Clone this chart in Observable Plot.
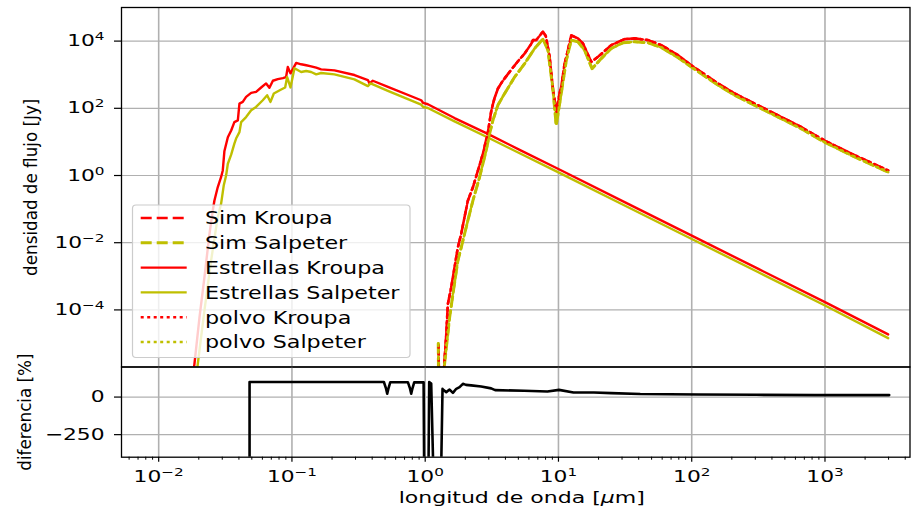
<!DOCTYPE html>
<html>
<head>
<meta charset="utf-8">
<script src="https://cdn.jsdelivr.net/npm/d3@7"></script>
<script src="https://cdn.jsdelivr.net/npm/@observablehq/plot@0.6"></script>
<style>
  body { margin: 0; background: #fff; }
  #wrap { position: relative; width: 911px; height: 512px; overflow: hidden; font-family: "DejaVu Sans", sans-serif; }
  #wrap > svg { position: absolute; left: 0; top: 0; }
</style>
</head>
<body>
<div id="wrap"></div>
<script>
// ---------------- DATA (log10 of wavelength in μm, log10 of flux in Jy) ----------------
const estrellasKroupa = [[-1.80,-7.5],[-1.732,-5.62],[-1.694,-4.23],[-1.657,-3.04],[-1.619,-1.74],[-1.594,-1.04],[-1.582,-0.75],[-1.557,-0.35],[-1.532,-0.05],[-1.519,0.15],[-1.507,0.72],[-1.481,1.14],[-1.456,1.34],[-1.432,1.59],[-1.406,1.64],[-1.394,2.14],[-1.369,2.19],[-1.344,2.34],[-1.306,2.46],[-1.269,2.49],[-1.231,2.62],[-1.194,2.74],[-1.169,2.61],[-1.143,2.82],[-1.106,2.87],[-1.068,2.90],[-1.044,2.93],[-1.031,3.23],[-1.011,3.04],[-0.968,3.35],[-0.931,3.31],[-0.893,3.28],[-0.856,3.25],[-0.818,3.21],[-0.781,3.16],[-0.681,3.13],[-0.531,2.99],[-0.430,2.84],[-0.418,2.74],[-0.393,2.82],[-0.280,2.64],[-0.030,2.24],[-0.015,2.16],[0.020,2.12],[0.220,1.71],[0.470,1.24],[0.720,0.74],[0.996,0.20],[1.500,-0.80],[2.000,-1.79],[2.500,-2.78],[3.000,-3.77],[3.474,-4.73]];
const estrellasSalpeter = [[-1.76,-7.5],[-1.707,-5.62],[-1.657,-4.03],[-1.607,-2.54],[-1.557,-1.24],[-1.532,-0.85],[-1.512,-0.30],[-1.494,0.0],[-1.481,0.35],[-1.456,0.62],[-1.432,0.95],[-1.419,1.10],[-1.394,1.29],[-1.381,1.59],[-1.344,1.74],[-1.306,1.94],[-1.269,2.04],[-1.219,2.24],[-1.186,2.39],[-1.161,2.19],[-1.136,2.44],[-1.081,2.56],[-1.051,2.62],[-1.036,2.93],[-1.011,2.62],[-0.981,3.19],[-0.931,3.08],[-0.893,3.11],[-0.856,3.08],[-0.818,3.01],[-0.781,3.05],[-0.681,3.01],[-0.531,2.86],[-0.430,2.66],[-0.410,2.74],[-0.280,2.52],[-0.030,2.11],[-0.015,2.04],[0.020,2.01],[0.220,1.61],[0.470,1.13],[0.720,0.64],[0.996,0.10],[1.500,-0.90],[2.000,-1.89],[2.500,-2.88],[3.000,-3.87],[3.474,-4.84]];
const polvoKroupa = [[0.100,-5.05],[0.104,-6.3],[0.138,-6.3],[0.143,-5.6],[0.158,-4.73],[0.170,-3.83],[0.195,-3.33],[0.220,-2.74],[0.245,-2.14],[0.270,-1.74],[0.295,-1.24],[0.320,-0.75],[0.358,-0.35],[0.396,0.15],[0.433,0.65],[0.471,1.29],[0.483,1.60],[0.495,1.90],[0.508,2.12],[0.520,2.30],[0.546,2.59],[0.571,2.75],[0.596,2.89],[0.646,3.15],[0.696,3.40],[0.746,3.63],[0.796,3.92],[0.809,4.03],[0.833,4.03],[0.871,4.22],[0.884,4.28],[0.905,4.15],[0.933,3.55],[0.959,2.55],[0.985,1.90],[1.008,2.44],[1.021,2.64],[1.046,3.33],[1.059,3.53],[1.096,4.17],[1.146,4.08],[1.184,3.93],[1.246,3.38],[1.296,3.53],[1.396,3.88],[1.496,4.06],[1.571,4.08],[1.672,4.03],[1.772,3.88],[1.897,3.58],[1.997,3.28],[2.197,2.74],[2.322,2.44],[2.572,1.94],[2.823,1.44],[2.998,1.04],[3.198,0.65],[3.474,0.15]];
const polvoSalpeter = [[0.098,-5.0],[0.101,-6.3],[0.142,-6.3],[0.145,-5.62],[0.183,-4.23],[0.208,-3.53],[0.245,-2.54],[0.283,-1.94],[0.320,-1.34],[0.358,-0.75],[0.408,-0.05],[0.458,0.75],[0.483,1.24],[0.508,1.64],[0.546,2.10],[0.596,2.44],[0.671,2.93],[0.746,3.33],[0.821,3.78],[0.884,4.06],[0.921,3.73],[0.959,2.54],[0.983,1.49],[1.021,2.44],[1.059,3.43],[1.096,4.03],[1.146,3.98],[1.196,3.73],[1.252,3.18],[1.321,3.48],[1.396,3.78],[1.484,3.95],[1.571,3.98],[1.672,3.95],[1.772,3.81],[1.897,3.51],[1.997,3.23],[2.197,2.69],[2.322,2.39],[2.572,1.89],[2.823,1.39],[2.998,0.99],[3.198,0.60],[3.474,0.10]];
const simKroupa = polvoKroupa;
const simSalpeter = polvoSalpeter;
// difference panel: [log10 wavelength, %]
const diferencia = [[-1.318,-1000],[-1.318,100],[-0.31,100],[-0.295,60],[-0.285,22],[-0.275,60],[-0.262,99],[-0.13,99],[-0.115,60],[-0.105,22],[-0.095,60],[-0.082,99],[-0.035,98],[-0.012,98],[-0.004,-1000],[0.020,-1000],[0.030,100],[0.045,90],[0.075,-1000],[0.110,-1000],[0.130,55],[0.133,50],[0.158,33],[0.183,50],[0.208,28],[0.233,55],[0.258,66],[0.283,88],[0.306,81],[0.345,78],[0.420,70],[0.495,58],[0.525,46],[0.743,42],[0.917,37],[1.004,48],[1.113,30],[1.266,30],[1.396,26],[1.614,20],[2.052,17],[2.486,15],[2.924,13],[3.482,13]];

const xTicks = [1e-2, 1e-1, 1, 10, 100, 1000];
const yTicksTop = [1e-4, 1e-2, 1, 1e2, 1e4];
const yTicksDiff = [-250, 0];
const legendLabels = ["Sim Kroupa", "Sim Salpeter", "Estrellas Kroupa", "Estrellas Salpeter", "polvo Kroupa", "polvo Salpeter"];

// ---------------- LAYOUT ----------------
const W = 911, H = 512;
const L = 121, R = 909.5, T = 7, MID = 366.5, B = 456.7;
const xDomain = [0.00526, 4345];
const RED = "#ff0000", OLIVE = "#bfbf00", GRID = "#b0b0b0";
const FONT = "'DejaVu Sans', sans-serif";

const toXY = arr => arr.map(([lx, ly]) => ({x: 10 ** lx, y: 10 ** ly}));
const expFmt = d => "10^" + Math.round(Math.log10(d));

const xMinor = [];
for (let e = -3; e <= 3; e++) for (let m = 2; m <= 9; m++) {
  const v = m * 10 ** e;
  if (v > xDomain[0] && v < xDomain[1]) xMinor.push(v);
}

const styles = {
  simK: {stroke: RED, strokeWidth: 2.6, strokeDasharray: "10,4.5"},
  simS: {stroke: OLIVE, strokeWidth: 3, strokeDasharray: "10,4.5"},
  estK: {stroke: RED, strokeWidth: 2.4},
  estS: {stroke: OLIVE, strokeWidth: 2.4},
  polK: {stroke: RED, strokeWidth: 2.6, strokeDasharray: "2.5,4"},
  polS: {stroke: OLIVE, strokeWidth: 2.6, strokeDasharray: "2.5,4"}
};
const line = (data, st) => Plot.line(toXY(data), {x: "x", y: "y", ...st, clip: true, strokeLinejoin: "round"});

const topPlot = Plot.plot({
  width: W, height: H,
  marginLeft: L, marginRight: W - R, marginTop: T, marginBottom: H - MID,
  style: {background: "transparent", fontFamily: FONT, fontSize: "16px", color: "black"},
  x: {type: "log", domain: xDomain, axis: null, label: null},
  y: {type: "log", domain: [2.0e-6, 1.0e5], axis: null, label: null},
  marks: [
    Plot.gridX(xTicks, {stroke: GRID, strokeOpacity: 1, strokeWidth: 1.6}),
    Plot.gridY(yTicksTop, {stroke: GRID, strokeOpacity: 1, strokeWidth: 1.2}),
    line(simKroupa, styles.simK),
    line(simSalpeter, styles.simS),
    line(estrellasKroupa, styles.estK),
    line(estrellasSalpeter, styles.estS),
    line(polvoKroupa, styles.polK),
    line(polvoSalpeter, styles.polS),
    Plot.axisY(yTicksTop, {tickSize: 7, tickPadding: 10, tickFormat: expFmt, fontSize: 16, strokeWidth: 1.2, label: null}),
    Plot.frame({stroke: "black", strokeWidth: 1.3}),
    Plot.text(["densidad de flujo [Jy]"], {frameAnchor: "left", textAnchor: "middle", dx: -90, rotate: -90, fontSize: 18, fill: "black"})
  ]
});

const diffPlot = Plot.plot({
  width: W, height: H,
  marginLeft: L, marginRight: W - R, marginTop: MID, marginBottom: H - B,
  style: {background: "transparent", fontFamily: FONT, fontSize: "16px", color: "black"},
  x: {type: "log", domain: xDomain, axis: null, label: null},
  y: {domain: [-400, 200], axis: null, label: null},
  marks: [
    Plot.gridX(xTicks, {stroke: GRID, strokeOpacity: 1, strokeWidth: 1.6}),
    Plot.gridY(yTicksDiff, {stroke: GRID, strokeOpacity: 1, strokeWidth: 1.2}),
    Plot.line(diferencia.map(([lx, v]) => ({x: 10 ** lx, y: v})), {x: "x", y: "y", stroke: "black", strokeWidth: 2.6, clip: true}),
    Plot.axisX(xMinor, {tickSize: 3, tickFormat: () => "", strokeWidth: 1, label: null}),
    Plot.axisX(xTicks, {tickSize: 5, tickPadding: 8.5, tickFormat: expFmt, fontSize: 16, strokeWidth: 1.2, label: null}),
    Plot.axisY(yTicksDiff, {tickSize: 7, tickPadding: 10, fontSize: 16, strokeWidth: 1.2, label: null}),
    Plot.frame({stroke: "black", strokeWidth: 1.3}),
    Plot.text(["diferencia [%]"], {frameAnchor: "left", textAnchor: "middle", dx: -96, rotate: -90, fontSize: 18, fill: "black"}),
    Plot.text(["longitud de onda [μm]"], {frameAnchor: "bottom", textAnchor: "middle", dy: 46, dx: 6, fontSize: 15.5, fill: "black"})
  ]
});

const SVGNS = "http://www.w3.org/2000/svg";
const stretchList = [];
function finish(svg) {
  svg.querySelectorAll("text").forEach(t => {
    const s = t.textContent;
    const m = /^10\^(-?\d+)$/.exec(s);
    if (m) {
      t.textContent = "10";
      const sp = document.createElementNS(SVGNS, "tspan");
      sp.setAttribute("font-size", "0.7em");
      sp.setAttribute("dy", "-6");
      sp.textContent = m[1].replace("-", "\u2212");
      t.appendChild(sp);
      stretchList.push([t, 1.36]);
    } else if (s === "0" || s === "\u2212250" || s === "-250") {
      t.textContent = s.replace("-", "\u2212");
      stretchList.push([t, 1.36]);
    } else if (s.includes("μ")) {
      t.textContent = "";
      const parts = [["longitud de onda [", null], ["μ", "italic"], ["m]", null]];
      for (const [txt, st] of parts) {
        const sp = document.createElementNS(SVGNS, "tspan");
        if (st) sp.setAttribute("font-style", st);
        sp.textContent = txt;
        t.appendChild(sp);
      }
      stretchList.push([t, 1.42]);
    } else if (s === "densidad de flujo [Jy]" || s === "diferencia [%]") {
      stretchList.push([t, 0.93]);
    }
  });
  return svg;
}

const wrap = document.getElementById("wrap");
wrap.appendChild(finish(topPlot));
wrap.appendChild(finish(diffPlot));

// ---------------- LEGEND ----------------
const legendStyles = [styles.simK, styles.simS, styles.estK, styles.estS, styles.polK, styles.polS];
const lg = document.createElementNS(SVGNS, "svg");
lg.setAttribute("width", W); lg.setAttribute("height", H);
lg.style.fontFamily = FONT;
const bx = 132.5, by = 205, bw = 277.5, bh = 152.5;
let html = `<rect x="${bx}" y="${by}" width="${bw}" height="${bh}" rx="3.5" fill="white" fill-opacity="0.8" stroke="#cccccc" stroke-width="1.2"/>`;
legendLabels.forEach((lab, i) => {
  const cy = 218 + i * 24.8;
  const st = legendStyles[i];
  const dash = st.strokeDasharray ? (st.strokeDasharray === "10,4.5" ? "11,5" : "3,3.5") : "none";
  html += `<line x1="140.7" x2="186.7" y1="${cy}" y2="${cy}" stroke="${st.stroke}" stroke-width="${st.strokeWidth}" stroke-dasharray="${dash}"/>`;
  html += `<text class="lgt" x="205" y="${cy + 6.3}" font-size="17.5" fill="black">${lab}</text>`;
});
lg.innerHTML = html;
wrap.appendChild(lg);
lg.querySelectorAll("text.lgt").forEach(t => stretchList.push([t, 1.27]));

// stretch glyphs horizontally (along the text) without moving their anchors
for (const [t, k] of stretchList) {
  const len = t.getComputedTextLength();
  if (len > 0) {
    t.setAttribute("textLength", (len * k).toFixed(2));
    t.setAttribute("lengthAdjust", "spacingAndGlyphs");
  }
}
</script>
</body>
</html>
